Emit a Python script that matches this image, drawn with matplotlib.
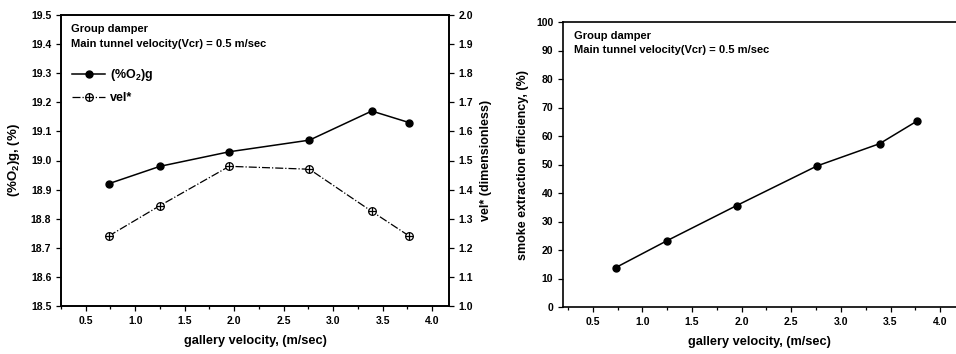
import matplotlib
matplotlib.use("Agg")
import matplotlib.pyplot as plt
from matplotlib.ticker import MultipleLocator

plt.rcParams["font.family"] = ["Liberation Sans", "DejaVu Sans"]
plt.rcParams["font.weight"] = "bold"
plt.rcParams["axes.labelweight"] = "bold"
plt.rcParams["mathtext.default"] = "regular"

# --- data ---------------------------------------------------------------------
gallery_vel = [0.73, 1.25, 1.95, 2.76, 3.39, 3.77]
o2_g = [18.92, 18.98, 19.03, 19.07, 19.17, 19.13]
vel_star = [1.24, 1.345, 1.48, 1.47, 1.325, 1.24]
smoke_eff = [13.8, 23.3, 35.6, 49.5, 57.3, 65.3]

W, H = 956, 354
fig = plt.figure(figsize=(W / 100, H / 100), dpi=100)

NOTE = "Group damper\nMain tunnel velocity(Vcr) = 0.5 m/sec"


def rect(x0, x1, ytop, ybot):
    return [x0 / W, 1 - ybot / H, (x1 - x0) / W, (ybot - ytop) / H]


def style_axis(ax):
    ax.tick_params(which="both", direction="out", labelsize=7.5, width=0.9)
    ax.tick_params(which="major", length=3.5)
    ax.tick_params(which="minor", length=2)
    for s in ax.spines.values():
        s.set_linewidth(1.2)


# --- left panel: O2 and vel* --------------------------------------------------
ax1 = fig.add_axes(rect(61, 449, 15, 306))
l1, = ax1.plot(gallery_vel, o2_g, "-o", color="black", lw=1.1, ms=5)
ax1.set_xlim(0.25, 4.17)
ax1.set_ylim(18.5, 19.5)
ax1.xaxis.set_major_locator(MultipleLocator(0.5))
ax1.xaxis.set_minor_locator(MultipleLocator(0.25))
ax1.yaxis.set_major_locator(MultipleLocator(0.1))
ax1.yaxis.set_major_formatter(plt.FormatStrFormatter("%.1f"))
ax1.set_xlabel("gallery velocity, (m/sec)", fontsize=9.2, labelpad=7)
ax1.set_ylabel("(%O$_2$)g, (%)", fontsize=9.5, labelpad=6)
style_axis(ax1)

ax2 = ax1.twinx()
l2, = ax2.plot(gallery_vel, vel_star, "-.", color="black", lw=0.9,
               marker="o", ms=5.5, mfc="white", mec="black", mew=0.9)
l2p, = ax2.plot(gallery_vel, vel_star, "+", color="black", ms=5.5, mew=0.9)
ax2.set_ylim(1.0, 2.0)
ax2.yaxis.set_major_locator(MultipleLocator(0.1))
ax2.yaxis.set_major_formatter(plt.FormatStrFormatter("%.1f"))
ax2.set_ylabel("vel* (dimensionless)", fontsize=9, labelpad=5)
style_axis(ax2)

ax1.text(0.027, 0.97, NOTE, transform=ax1.transAxes, fontsize=8,
         va="top", linespacing=1.6)
ax1.legend([l1, (l2, l2p)], ["(%O$_2$)g", "vel*"], loc="upper left",
           bbox_to_anchor=(0.0, 0.86), frameon=False, fontsize=9,
           handlelength=2.6, handletextpad=0.4, labelspacing=0.75)

# --- right panel: smoke extraction efficiency ---------------------------------
ax3 = fig.add_axes(rect(563, 956, 22, 307))
ax3.plot(gallery_vel, smoke_eff, "-o", color="black", lw=1.1, ms=5)
ax3.set_xlim(0.2, 4.16)
ax3.set_ylim(0, 100)
ax3.xaxis.set_major_locator(MultipleLocator(0.5))
ax3.xaxis.set_minor_locator(MultipleLocator(0.25))
ax3.yaxis.set_major_locator(MultipleLocator(10))
ax3.set_xlabel("gallery velocity, (m/sec)", fontsize=9.2, labelpad=7)
ax3.set_ylabel("smoke extraction efficiency, (%)", fontsize=9, labelpad=5)
style_axis(ax3)
ax3.spines["right"].set_visible(False)
ax3.text(0.027, 0.97, NOTE, transform=ax3.transAxes, fontsize=8,
         va="top", linespacing=1.6)

fig.savefig("out.png", dpi=100)
